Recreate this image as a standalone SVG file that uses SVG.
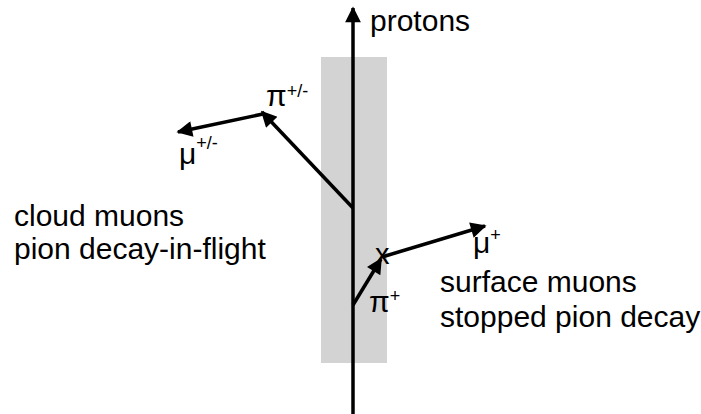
<svg xmlns="http://www.w3.org/2000/svg" width="701" height="414" viewBox="0 0 701 414">
<style>
text{font-family:"Liberation Sans",Arial,sans-serif;fill:#000}
.t{font-size:30px}
.s{font-size:18px}
.ln{stroke:#000;stroke-width:3.5;fill:none}
</style>
<defs>
<marker id="ah" viewBox="0 0 10 10" refX="9" refY="5" markerWidth="5" markerHeight="4.5" markerUnits="strokeWidth" orient="auto">
<path d="M0,0 L10,5 L0,10 z" fill="#000"/>
</marker>
</defs>
<rect id="target" x="321" y="57" width="66" height="306" fill="#d3d3d3"/>
<g id="connectors">
<line class="ln" x1="353" y1="414" x2="353" y2="8" marker-end="url(#ah)"/>
<line class="ln" x1="353" y1="208" x2="262" y2="112" marker-end="url(#ah)"/>
<line class="ln" x1="263" y1="114" x2="178" y2="132" marker-end="url(#ah)"/>
<line class="ln" x1="353" y1="305" x2="381" y2="259" marker-end="url(#ah)"/>
<line class="ln" x1="382" y1="257" x2="485" y2="226" marker-end="url(#ah)"/>
</g>
<g id="protons"><text class="t" x="370" y="31">protons</text></g>
<g id="pion-flight"><text class="t" x="266" y="106">π<tspan class="s" dy="-9">+/-</tspan></text></g>
<g id="muon-flight"><text class="t" x="179" y="164">μ<tspan class="s" dy="-15">+/-</tspan></text></g>
<g id="cloud"><text class="t" x="14" y="226">cloud muons</text><text class="t" x="14" y="259">pion decay-in-flight</text></g>
<g id="decay-point"><text x="375" y="264" style="font-size:29px">x</text></g>
<g id="muon-surface"><text class="t" x="473" y="253">μ<tspan class="s" dy="-12">+</tspan></text></g>
<g id="pion-stopped"><text class="t" x="369" y="312">π<tspan class="s" dy="-10">+</tspan></text></g>
<g id="surface"><text class="t" x="440" y="292">surface muons</text><text class="t" x="440" y="327">stopped pion decay</text></g>
</svg>
